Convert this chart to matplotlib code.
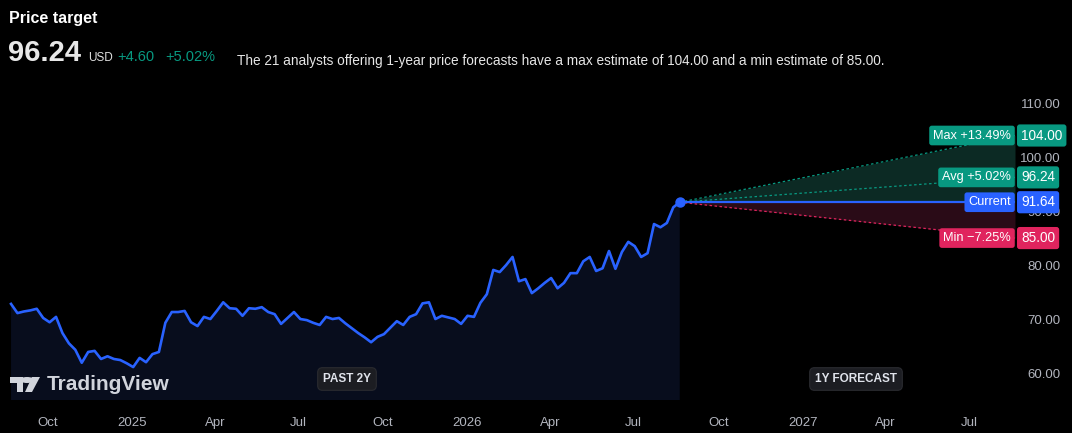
import matplotlib
matplotlib.use("Agg")
from matplotlib import pyplot as plt
from matplotlib.patches import Polygon, Circle
import matplotlib.transforms as mtransforms
import pandas as pd

# weekly closes, last two years
prices = [72.8, 71.1, 71.4, 71.6, 71.9, 70.2, 69.4, 70.4, 67.4, 65.5,
          64.3, 61.9, 63.9, 64.1, 62.6, 63.1, 62.6, 62.4, 61.8, 61.1,
          62.8, 62.0, 63.5, 63.9, 69.3, 71.3, 71.3, 71.5, 69.4, 68.7,
          70.4, 70.0, 71.5, 73.1, 72.0, 71.9, 70.6, 72.0, 71.9, 72.2,
          71.3, 70.9, 69.1, 70.2, 71.3, 70.0, 69.8, 69.3, 68.9, 70.4,
          70.0, 70.2, 69.2, 68.3, 67.4, 66.6, 65.7, 66.7, 67.2, 68.4,
          69.6, 68.9, 70.4, 70.9, 72.9, 73.1, 70.0, 70.6, 70.3, 70.0,
          69.1, 70.6, 70.4, 73.0, 74.6, 79.1, 78.7, 80.0, 81.5, 77.0,
          77.4, 74.8, 75.7, 76.7, 77.6, 75.7, 76.7, 78.5, 78.5, 80.7,
          81.5, 78.9, 79.4, 82.6, 79.3, 82.4, 84.3, 83.5, 81.5, 82.2,
          87.6, 87.0, 87.8, 90.7, 91.64]
dates = pd.date_range(end="2026-08-20", periods=len(prices), freq="7D")

current = 91.64
target_max = 104.00
target_avg = 96.24
target_min = 85.00
forecast_dates = pd.to_datetime(["2026-08-20", "2027-08-20"])

xtick_dates = pd.to_datetime(["2024-10-01", "2025-01-01", "2025-04-01", "2025-07-01",
                              "2025-10-01", "2026-01-01", "2026-04-01", "2026-07-01",
                              "2026-10-01", "2027-01-01", "2027-04-01", "2027-07-01"])
xtick_labels = ["Oct", "2025", "Apr", "Jul", "Oct", "2026", "Apr", "Jul",
                "Oct", "2027", "Apr", "Jul"]
ytick_values = [60, 70, 80, 90, 100, 110]

BLUE = "#2962ff"
GREEN = "#089981"
RED = "#e0245e"
GREY = "#b2b5be"

plt.rcParams["font.family"] = ["Liberation Sans", "DejaVu Sans"]

fig = plt.figure(figsize=(10.72, 4.33), dpi=100, facecolor="black")
ax = fig.add_axes([0, 1 - 400 / 433, 1015 / 1072, 312 / 433])
ax.set_facecolor("black")

# history
ax.fill_between(dates, prices, 0, color="#080d1d", lw=0, zorder=1)
ax.plot(dates, prices, color=BLUE, lw=1.9, zorder=4, solid_joinstyle="round")
ax.plot(dates[-1], prices[-1], "o", color=BLUE, ms=6.5, zorder=5)

# forecast fan
ax.fill_between(forecast_dates, [current, current], [current, target_max],
                color="#0c2a24", lw=0, zorder=1)
ax.fill_between(forecast_dates, [current, current], [current, target_min],
                color="#2a0b17", lw=0, zorder=1)
ax.plot(forecast_dates, [current, target_max], color=GREEN, lw=0.9, ls=(0, (2, 2)), zorder=3)
ax.plot(forecast_dates, [current, target_avg], color=GREEN, lw=0.9, ls=(0, (2, 2)), zorder=3)
ax.plot(forecast_dates, [current, target_min], color=RED, lw=0.9, ls=(0, (2, 2)), zorder=3)
ax.plot(forecast_dates, [current, current], color=BLUE, lw=1.6, zorder=3)

ax.set_xlim(pd.Timestamp("2024-08-10"), pd.Timestamp("2027-08-20"))
ax.set_ylim(55.0, 112.8)
for s in ax.spines.values():
    s.set_visible(False)

ax.set_xticks(xtick_dates)
ax.set_xticklabels(xtick_labels)
ax.tick_params(axis="x", length=0, pad=12, colors=GREY, labelsize=9.5)
ax.yaxis.tick_right()
ax.set_yticks(ytick_values)
ax.set_yticklabels(["%.2f" % v for v in ytick_values])
ax.tick_params(axis="y", length=0, pad=33, colors=GREY, labelsize=9.5)
for lab in ax.get_yticklabels():
    lab.set_ha("right")

# right side labels
trans = mtransforms.blended_transform_factory(ax.transAxes, ax.transData)
tags = [("Max +13.49%", "104.00", target_max, GREEN),
        ("Avg +5.02%", "96.24", target_avg, GREEN),
        ("Current", "91.64", current, BLUE),
        ("Min \u22127.25%", "85.00", target_min, RED)]
for name, val, y, col in tags:
    ax.text(0.996, y, name, transform=trans, ha="right", va="center", color="white",
            fontsize=9.2, clip_on=False, zorder=10,
            bbox=dict(boxstyle="round,pad=0.3,rounding_size=0.2", fc=col, ec="none"))
    ax.text(1.006, y, val, transform=trans, ha="left", va="center", color="white",
            fontsize=9.8, clip_on=False, zorder=10,
            bbox=dict(boxstyle="round,pad=0.3,rounding_size=0.2", fc=col, ec="none"))

# header
fig.text(9 / 1072, 1 - 18 / 433, "Price target", color="white", fontsize=11.5,
         fontweight="bold", va="center")
fig.text(8 / 1072, 1 - 53 / 433, "96.24", color="#e8e8e8", fontsize=21,
         fontweight="bold", va="center")
fig.text(88 / 1072, 1 - 58 / 433, "USD", color="#e0e0e0", fontsize=8.5, va="center")
fig.text(117 / 1072, 1 - 57 / 433, "+4.60", color=GREEN, fontsize=10.5, va="center")
fig.text(165 / 1072, 1 - 57 / 433, "+5.02%", color=GREEN, fontsize=10.5, va="center")
fig.text(237 / 1072, 1 - 61 / 433,
         "The 21 analysts offering 1-year price forecasts have a max estimate of 104.00 "
         "and a min estimate of 85.00.", color="#e6e6e6", fontsize=9.8, va="center")

# period badges
for label, cx in [("PAST 2Y", 347), ("1Y FORECAST", 856)]:
    fig.text(cx / 1072, 1 - 379 / 433, label, color="#e0e3eb", fontsize=8.5,
             fontweight="bold", ha="center", va="center",
             bbox=dict(boxstyle="round,pad=0.45,rounding_size=0.4", fc="#1c1d22", ec="#2a2b30", lw=0.8))

# TradingView watermark
def px(x, y):
    return (x / 1072, 1 - y / 433)

logo = "#d1d4dc"
fig.patches.append(Polygon([px(10, 377), px(23, 377), px(23, 392), px(17, 392),
                            px(17, 383), px(10, 383)], closed=True, fc=logo, ec="none",
                           transform=fig.transFigure))
fig.patches.append(Circle(px(27, 380), 3.0 / 433, fc=logo, ec="none",
                          transform=fig.transFigure))
fig.patches.append(Polygon([px(32, 377), px(40, 377), px(32, 392), px(25, 392)],
                           closed=True, fc=logo, ec="none", transform=fig.transFigure))
fig.text(47 / 1072, 1 - 385 / 433, "TradingView", color=logo, fontsize=15,
         fontweight="bold", va="center")

fig.savefig("out.png", dpi=100, facecolor="black")
